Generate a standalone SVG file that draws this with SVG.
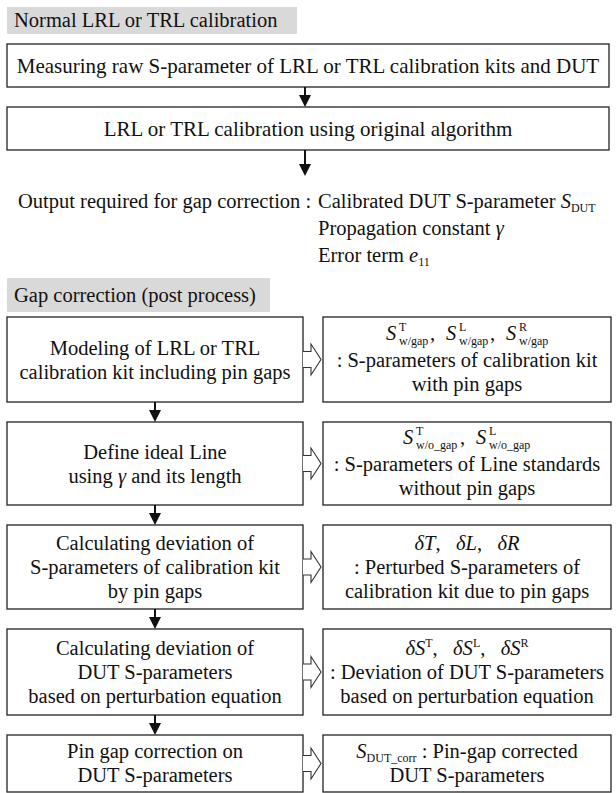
<svg xmlns="http://www.w3.org/2000/svg" width="616" height="793" viewBox="0 0 616 793">
<defs>
<style>
text{font-family:"Liberation Serif","Times New Roman",serif;font-size:20.5px;fill:#111}
.c{text-anchor:middle}
.it{font-style:italic}
.big{font-size:21px}
.box{fill:#fff;stroke:#222;stroke-width:1.3}
.hdr{fill:#d9d9d9;stroke:none}
.ln{stroke:#111;stroke-width:2;fill:none}
.hd{fill:#111;stroke:none}
.hol{fill:#fff;stroke:#333;stroke-width:1.1;stroke-linejoin:miter}
.sm{font-size:12px}
</style>
</defs>
<rect width="616" height="793" fill="#fff"/>

<g id="hdr-normal">
<rect class="hdr" x="7" y="7" width="290" height="27"/>
<text x="14" y="27">Normal LRL or TRL calibration</text>
</g>

<g id="n-measure">
<rect class="box" x="7" y="44" width="602" height="43"/>
<text class="c big" x="308" y="72.5">Measuring raw S-parameter of LRL or TRL calibration kits and DUT</text>
</g>

<g id="n-calib">
<rect class="box" x="7" y="107" width="602" height="43"/>
<text class="c big" x="308" y="135.5">LRL or TRL calibration using original algorithm</text>
</g>

<g id="n-output">
<text x="18" y="208">Output required for gap correction :</text>
<text x="318" y="208">Calibrated DUT S-parameter <tspan class="it">S</tspan><tspan class="sm" dy="4">DUT</tspan></text>
<text x="318" y="235">Propagation constant <tspan class="it">γ</tspan></text>
<text x="318" y="262">Error term <tspan class="it">e</tspan><tspan class="sm" dy="4">11</tspan></text>
</g>

<g id="hdr-gap">
<rect class="hdr" x="7" y="278" width="263" height="34"/>
<text x="14" y="302">Gap correction (post process)</text>
</g>

<g id="l1">
<rect class="box" x="7" y="317" width="296" height="85"/>
<text class="c" x="155" y="355">Modeling of LRL or TRL</text>
<text class="c" x="155" y="379">calibration kit including pin gaps</text>
</g>
<g id="r1">
<rect class="box" x="323" y="317" width="288" height="85"/>
<text class="it" x="386" y="340">S</text><text class="sm" x="399" y="330.5">T</text><text class="sm" x="399" y="345">w/gap</text><text x="430" y="340">,</text>
<text class="it" x="446" y="340">S</text><text class="sm" x="459" y="330.5">L</text><text class="sm" x="459" y="345">w/gap</text><text x="490" y="340">,</text>
<text class="it" x="506" y="340">S</text><text class="sm" x="519" y="330.5">R</text><text class="sm" x="519" y="345">w/gap</text>
<text class="c" x="467" y="367">: S-parameters of calibration kit</text>
<text class="c" x="467" y="391">with pin gaps</text>
</g>

<g id="l2">
<rect class="box" x="7" y="422" width="296" height="83"/>
<text class="c" x="155" y="459">Define ideal Line</text>
<text class="c" x="155" y="483">using <tspan class="it">γ</tspan> and its length</text>
</g>
<g id="r2">
<rect class="box" x="323" y="422" width="288" height="83"/>
<text class="it" x="403" y="444">S</text><text class="sm" x="416" y="434.5">T</text><text class="sm" x="416" y="449">w/o_gap</text><text x="460" y="444">,</text>
<text class="it" x="476" y="444">S</text><text class="sm" x="489" y="434.5">L</text><text class="sm" x="489" y="449">w/o_gap</text>
<text class="c" x="467" y="471">: S-parameters of Line standards</text>
<text class="c" x="467" y="495">without pin gaps</text>
</g>

<g id="l3">
<rect class="box" x="7" y="525" width="296" height="84"/>
<text class="c" x="155" y="550">Calculating deviation of</text>
<text class="c" x="155" y="574">S-parameters of calibration kit</text>
<text class="c" x="155" y="598">by pin gaps</text>
</g>
<g id="r3">
<rect class="box" x="323" y="525" width="288" height="84"/>
<text class="c" x="467" y="550"><tspan class="it">δT</tspan>,&#160;&#160;&#160;<tspan class="it">δL</tspan>,&#160;&#160;&#160;<tspan class="it">δR</tspan></text>
<text class="c" x="467" y="574">: Perturbed S-parameters of</text>
<text class="c" x="467" y="598">calibration kit due to pin gaps</text>
</g>

<g id="l4">
<rect class="box" x="7" y="629" width="296" height="86"/>
<text class="c" x="155" y="655">Calculating deviation of</text>
<text class="c" x="155" y="679">DUT S-parameters</text>
<text class="c" x="155" y="703">based on perturbation equation</text>
</g>
<g id="r4">
<rect class="box" x="323" y="629" width="288" height="86"/>
<text class="c" x="467" y="655"><tspan class="it">δS</tspan><tspan class="sm" dy="-8">T</tspan><tspan dy="8">,&#160;&#160;&#160;</tspan><tspan class="it">δS</tspan><tspan class="sm" dy="-8">L</tspan><tspan dy="8">,&#160;&#160;&#160;</tspan><tspan class="it">δS</tspan><tspan class="sm" dy="-8">R</tspan></text>
<text class="c" x="467" y="679">: Deviation of DUT S-parameters</text>
<text class="c" x="467" y="703">based on perturbation equation</text>
</g>

<g id="l5">
<rect class="box" x="7" y="735" width="296" height="57"/>
<text class="c" x="155" y="758">Pin gap correction on</text>
<text class="c" x="155" y="782">DUT S-parameters</text>
</g>
<g id="r5">
<rect class="box" x="323" y="735" width="288" height="57"/>
<text class="c" x="467" y="758"><tspan class="it">S</tspan><tspan class="sm" dy="4">DUT_corr</tspan><tspan dy="-4"> : Pin-gap corrected</tspan></text>
<text class="c" x="467" y="782">DUT S-parameters</text>
</g>

<g id="connectors">
<line class="ln" x1="305" y1="87" x2="305" y2="96"/><path class="hd" d="M299,95 L311,95 L305,107 Z"/>
<line class="ln" x1="305" y1="150" x2="305" y2="165"/><path class="hd" d="M299,164 L311,164 L305,176 Z"/>
<line class="ln" x1="155" y1="402" x2="155" y2="411"/><path class="hd" d="M149,410 L161,410 L155,422 Z"/>
<line class="ln" x1="155" y1="505" x2="155" y2="514"/><path class="hd" d="M149,513 L161,513 L155,525 Z"/>
<line class="ln" x1="155" y1="609" x2="155" y2="618"/><path class="hd" d="M149,617 L161,617 L155,629 Z"/>
<line class="ln" x1="155" y1="715" x2="155" y2="724"/><path class="hd" d="M149,723 L161,723 L155,735 Z"/>
<path class="hol" d="M303,351.5 H311 V344 L321,359.5 L311,375 V367.5 H303"/>
<path class="hol" d="M303,455.5 H311 V448 L321,463.5 L311,479 V471.5 H303"/>
<path class="hol" d="M303,559 H311 V551.5 L321,567 L311,582.5 V575 H303"/>
<path class="hol" d="M303,664 H311 V656.5 L321,672 L311,687.5 V680 H303"/>
<path class="hol" d="M303,755.5 H311 V748 L321,763.5 L311,779 V771.5 H303"/>
</g>
</svg>
